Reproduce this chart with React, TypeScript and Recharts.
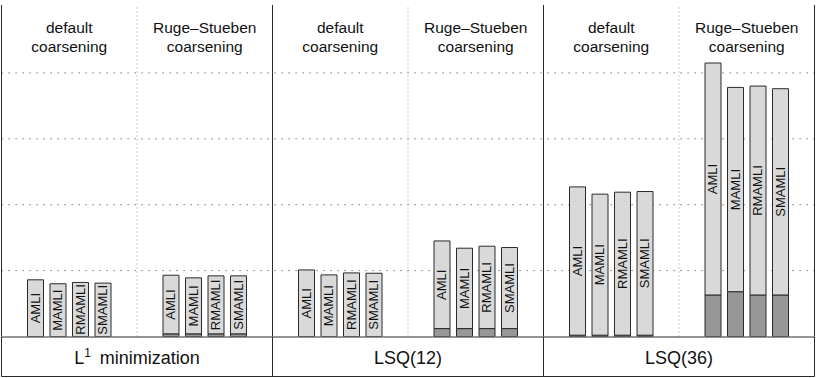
import {
  BarChart,
  Bar,
  XAxis,
  YAxis,
  CartesianGrid,
  ReferenceLine,
  LabelList,
} from 'recharts';

const FONT = '"Liberation Sans", Arial, Helvetica, sans-serif';

// one entry per (problem, coarsening) group
const groupIds = ['L1-def', 'L1-rs', 'LSQ12-def', 'LSQ12-rs', 'LSQ36-def', 'LSQ36-rs'];
const panelNames = ['L1 minimization', 'L1 minimization', 'LSQ(12)', 'LSQ(12)', 'LSQ(36)', 'LSQ(36)'];
const coarseningNames = [
  'default coarsening',
  'Ruge–Stueben coarsening',
  'default coarsening',
  'Ruge–Stueben coarsening',
  'default coarsening',
  'Ruge–Stueben coarsening',
];
const methods = ['AMLI', 'MAMLI', 'RMAMLI', 'SMAMLI'];

// dark (setup) part and light (solve) part of each bar, grid units
const amliSetup = [0, 0.04, 0, 0.12, 0.02, 0.63];
const amliSolve = [0.86, 0.89, 1.01, 1.33, 2.25, 3.52];
const mamliSetup = [0, 0.04, 0, 0.12, 0.02, 0.68];
const mamliSolve = [0.8, 0.85, 0.935, 1.22, 2.14, 3.1];
const rmamliSetup = [0, 0.04, 0, 0.12, 0.02, 0.63];
const rmamliSolve = [0.82, 0.88, 0.965, 1.25, 2.17, 3.17];
const smamliSetup = [0, 0.04, 0, 0.12, 0.02, 0.63];
const smamliSolve = [0.81, 0.88, 0.96, 1.23, 2.18, 3.13];

const gridTicks = [1, 2, 3, 4];

const setups: Record<string, number[]> = {
  AMLI: amliSetup,
  MAMLI: mamliSetup,
  RMAMLI: rmamliSetup,
  SMAMLI: smamliSetup,
};
const solves: Record<string, number[]> = {
  AMLI: amliSolve,
  MAMLI: mamliSolve,
  RMAMLI: rmamliSolve,
  SMAMLI: smamliSolve,
};

const data = groupIds.map((id, i) => {
  const row: any = { id, panel: panelNames[i], coarsening: coarseningNames[i] };
  methods.forEach((m) => {
    row[m + 'Setup'] = setups[m][i];
    row[m + 'Solve'] = solves[m][i];
  });
  return row;
});

const W = 822;
const H = 378;
const MARGIN = { top: 5, right: 7.5, left: 1.5, bottom: 2 };
const PLOT_W = W - MARGIN.left - MARGIN.right;
const PANEL_W = PLOT_W / 3;
const PLOT_TOP = MARGIN.top;
const PLOT_BOTTOM = 337;
const BAND_BOTTOM = 376.5;
const EDGE = '#2a2a2a';

const methodLabel = (name: string) => (props: any) => {
  const vb = props.viewBox && props.viewBox.width != null ? props.viewBox : props;
  const { x, y, width, height } = vb;
  if (!height) return null;
  const cx = x + width / 2;
  const cy = y + height / 2;
  return (
    <text
      x={cx}
      y={cy}
      transform={`rotate(-90 ${cx} ${cy})`}
      textAnchor="middle"
      dominantBaseline="central"
      fontSize={13}
      fill="#111"
      fontFamily={FONT}
    >
      {name}
    </text>
  );
};

const HeaderTick = (props: any) => {
  const { x, payload } = props;
  const label: string = payload.value;
  const cut = label.lastIndexOf(' ');
  return (
    <text x={x} textAnchor="middle" fontSize={15.5} fill="#111" fontFamily={FONT}>
      <tspan x={x} y={PLOT_TOP + 27.5}>
        {label.slice(0, cut)}
      </tspan>
      <tspan x={x} y={PLOT_TOP + 47}>
        {label.slice(cut + 1)}
      </tspan>
    </text>
  );
};

// panel name under each pair of groups, plus the frame of the bottom band
const PanelTick = (props: any) => {
  const { x, payload } = props;
  const label: string = payload.value;
  const left = x - PANEL_W / 2;
  const right = x + PANEL_W / 2;
  return (
    <g>
      <text x={x} y={364} textAnchor="middle" fontSize={18} fill="#111" fontFamily={FONT}>
        {label.startsWith('L1 ') ? (
          <>
            <tspan>L</tspan>
            <tspan dy={-7} fontSize={12}>
              1
            </tspan>
            <tspan dy={7} dx={4}>
              {label.slice(2)}
            </tspan>
          </>
        ) : (
          label
        )}
      </text>
      <line x1={left} x2={right} y1={PLOT_BOTTOM} y2={PLOT_BOTTOM} stroke={EDGE} />
      <line x1={left} x2={left} y1={PLOT_BOTTOM} y2={BAND_BOTTOM} stroke={EDGE} />
      <line x1={right} x2={right} y1={PLOT_BOTTOM} y2={BAND_BOTTOM} stroke={EDGE} />
      <line x1={left} x2={right} y1={BAND_BOTTOM} y2={BAND_BOTTOM} stroke={EDGE} />
    </g>
  );
};

export default function App() {
  return (
    <div style={{ position: 'absolute', left: 0, top: 0, background: '#fff' }}>
      <BarChart
        width={W}
        height={H}
        data={data}
        margin={MARGIN}
        barSize={16}
        barGap={6.5}
      >
        <CartesianGrid
          vertical={false}
          horizontalValues={gridTicks}
          stroke="#555"
          strokeDasharray="1.2 5.8"
        />
        <XAxis xAxisId={0} dataKey="id" hide />
        <XAxis
          xAxisId="head"
          dataKey="coarsening"
          orientation="top"
          mirror
          axisLine={false}
          tickLine={false}
          interval={0}
          tick={HeaderTick}
        />
        <XAxis
          xAxisId="panel"
          dataKey="panel"
          allowDuplicatedCategory={false}
          height={39.5}
          interval={0}
          tickLine={false}
          axisLine={false}
          tick={PanelTick}
        />
        <YAxis hide domain={[0, 332 / 66]} ticks={gridTicks} allowDataOverflow />

        {[0, 2, 4].map((i) => (
          <ReferenceLine
            key={'split' + i}
            xAxisId={0}
            x={groupIds[i]}
            position="end"
            stroke="#9a9a9a"
            strokeDasharray="1 3"
          />
        ))}
        <ReferenceLine xAxisId={0} x={groupIds[0]} position="start" stroke={EDGE} />
        <ReferenceLine xAxisId={0} x={groupIds[1]} position="end" stroke={EDGE} />
        <ReferenceLine xAxisId={0} x={groupIds[3]} position="end" stroke={EDGE} />
        <ReferenceLine xAxisId={0} x={groupIds[5]} position="end" stroke={EDGE} />

        {methods.flatMap((m) => [
          <Bar
            key={m + 'Setup'}
            xAxisId={0}
            dataKey={m + 'Setup'}
            stackId={m}
            fill="#979797"
            stroke={EDGE}
            strokeWidth={1}
            isAnimationActive={false}
          />,
          <Bar
            key={m + 'Solve'}
            xAxisId={0}
            dataKey={m + 'Solve'}
            stackId={m}
            fill="#d9d9d9"
            stroke={EDGE}
            strokeWidth={1}
            isAnimationActive={false}
          >
            <LabelList dataKey={m + 'Solve'} content={methodLabel(m)} />
          </Bar>,
        ])}
      </BarChart>
    </div>
  );
}
